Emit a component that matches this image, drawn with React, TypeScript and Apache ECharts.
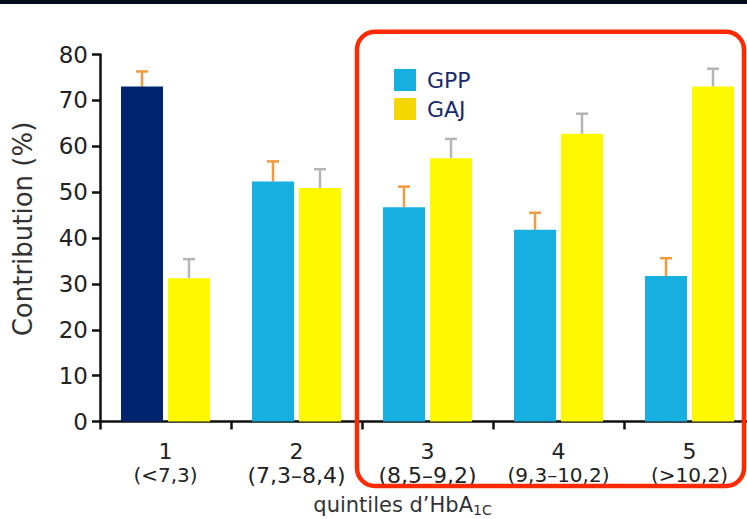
import React, { useEffect, useRef } from "react";
import * as echarts from "echarts";

const categories = ["1", "2", "3", "4", "5"];
const ranges = ["(<7,3)", "(7,3–8,4)", "(8,5–9,2)", "(9,3–10,2)", "(>10,2)"];
const gppValues = [73.0, 52.3, 46.7, 41.8, 31.7];
const gppUpper = [76.3, 56.7, 51.2, 45.5, 35.6];
const gajValues = [31.2, 50.9, 57.4, 62.7, 73.0];
const gajUpper = [35.4, 55.0, 61.6, 67.1, 76.9];
const yTicks = [0, 10, 20, 30, 40, 50, 60, 70, 80];

const FONT = "DejaVu Sans";
const BAR_W = 42;
const BAR_GAP = 5;

function errorSeries(name: string, vals: number[], upper: number[], offset: number, color: string) {
  return {
    type: "custom",
    name,
    z: 1,
    silent: true,
    data: vals.map((v, i) => [i, v, upper[i]]),
    encode: { x: 0, y: [1, 2] },
    renderItem: (params: any, api: any) => {
      const i = api.value(0);
      const base = api.coord([i, api.value(1)]);
      const top = api.coord([i, api.value(2)]);
      const x = base[0] + offset;
      const half = 6;
      return {
        type: "group",
        children: [
          {
            type: "line",
            shape: { x1: x, y1: base[1], x2: x, y2: top[1] },
            style: { stroke: color, lineWidth: 2.5 },
          },
          {
            type: "line",
            shape: { x1: x - half, y1: top[1], x2: x + half, y2: top[1] },
            style: { stroke: color, lineWidth: 2.5 },
          },
        ],
      };
    },
  };
}

export default function App() {
  const ref = useRef<HTMLDivElement>(null);
  useEffect(() => {
    if (!ref.current) return;
    const chart = echarts.init(ref.current, undefined, { renderer: "svg" });
    const off = (BAR_W + BAR_GAP) / 2;
    chart.setOption({
      animation: false,
      backgroundColor: "#ffffff",
      grid: { left: 100, top: 54.5, width: 655, height: 367, outerBoundsMode: "none", containLabel: false },
      legend: {
        orient: "vertical",
        left: 389,
        top: 64,
        itemWidth: 22,
        itemHeight: 22,
        itemGap: 7,
        icon: "rect",
        data: [
          { name: "GPP", itemStyle: { color: "#16afe0" } },
          { name: "GAJ", itemStyle: { color: "#f4d600" } },
        ],
        textStyle: { fontFamily: FONT, fontSize: 22, color: "#1b2a6b", padding: [2, 0, 0, 6] },
      },
      xAxis: {
        type: "category",
        data: categories,
        axisLine: { lineStyle: { color: "#111", width: 2.5 } },
        axisTick: { show: true, length: 8, lineStyle: { color: "#111", width: 2.5 } },
        axisLabel: {
          margin: 19,
          interval: 0,
          formatter: (val: string, idx: number) => {
            const big = idx === 1 || idx === 2;
            return `{n|${val}}\n{${big ? "b" : "s"}|${ranges[idx]}}`;
          },
          rich: {
            n: { fontFamily: FONT, fontSize: 22, color: "#222", lineHeight: 22 },
            b: { fontFamily: FONT, fontSize: 22, color: "#222", lineHeight: 25 },
            s: { fontFamily: FONT, fontSize: 20, color: "#222", lineHeight: 25 },
          },
        },
        name: "quintiles d’HbA{sub|1C}",
        nameLocation: "middle",
        nameGap: 71,
        nameTextStyle: {
          fontFamily: FONT,
          fontSize: 21,
          color: "#333",
          padding: [0, 50, 0, 0],
          rich: {
            sub: { fontFamily: FONT, fontSize: 14, color: "#333", padding: [10, 0, 0, 0] },
          },
        },
      },
      yAxis: {
        type: "value",
        min: yTicks[0],
        max: yTicks[yTicks.length - 1],
        interval: 10,
        splitLine: { show: false },
        axisLine: { show: true, lineStyle: { color: "#111", width: 2.5 } },
        axisTick: { show: true, length: 8, lineStyle: { color: "#111", width: 2.5 } },
        axisLabel: { margin: 12, fontFamily: FONT, fontSize: 23, color: "#222" },
        name: "Contribution (%)",
        nameLocation: "middle",
        nameGap: 64,
        nameTextStyle: { fontFamily: FONT, fontSize: 26, color: "#333", padding: [0, 0, 0, 18] },
      },
      series: [
        {
          type: "bar",
          name: "GPP",
          barWidth: BAR_W,
          barGap: `${(BAR_GAP / BAR_W) * 100}%`,
          z: 2,
          itemStyle: { color: "#16afe0" },
          data: gppValues.map((v, i) => (i === 0 ? { value: v, itemStyle: { color: "#00246f" } } : v)),
        },
        {
          type: "bar",
          name: "GAJ",
          barWidth: BAR_W,
          z: 2,
          itemStyle: { color: "#fef800" },
          data: gajValues,
        },
        errorSeries("errGPP", gppValues, gppUpper, -off, "#f39a3c"),
        errorSeries("errGAJ", gajValues, gajUpper, off, "#b5b5b5"),
      ],
      graphic: [
        { type: "rect", shape: { x: 0, y: 0, width: 747, height: 4 }, style: { fill: "#000b1a" }, z: 100 },
        {
          type: "rect",
          shape: { x: 357, y: 31.7, width: 387, height: 454.3, r: 18 },
          style: { fill: "none", stroke: "#ff2a00", lineWidth: 4.5 },
          z: 100,
        },
      ],
    });
    return () => chart.dispose();
  }, []);
  return (
    <div
      ref={ref}
      style={{ position: "fixed", left: 0, top: 0, width: 747, height: 519, background: "#fff" }}
    />
  );
}
